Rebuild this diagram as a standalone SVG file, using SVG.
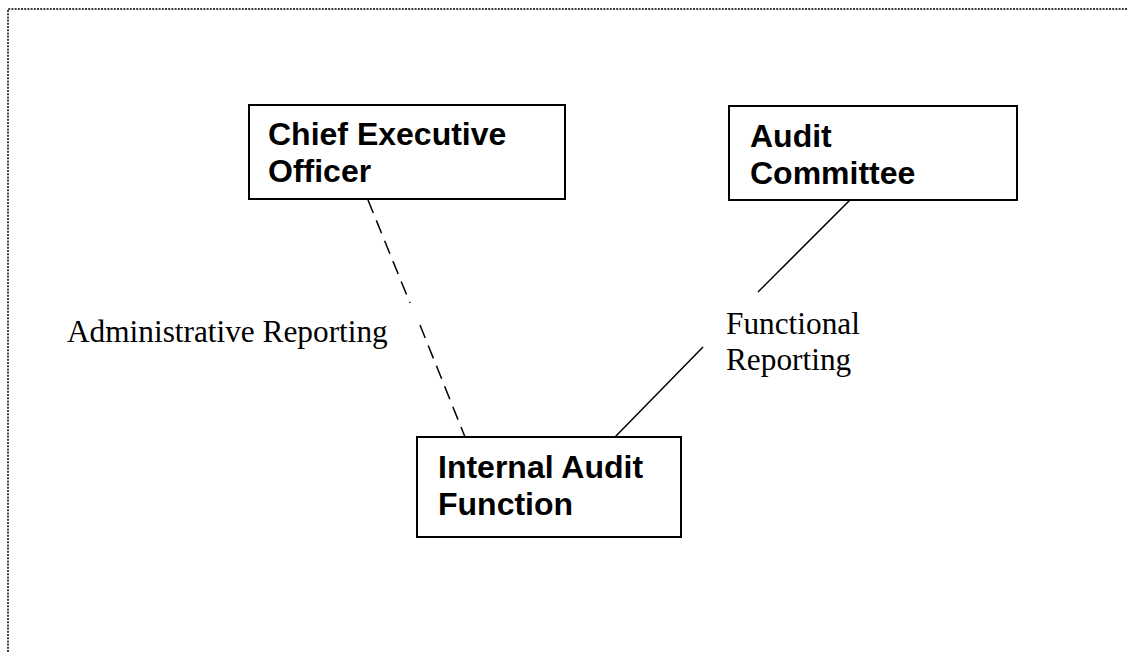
<svg xmlns="http://www.w3.org/2000/svg" width="1128" height="652" viewBox="0 0 1128 652">
<style>
.frame{fill:none;stroke:#000;stroke-width:1.5;stroke-dasharray:2 1.2}
.box{fill:#fff;stroke:#000;stroke-width:2}
.bold{font-family:"Liberation Sans",Arial,sans-serif;font-weight:bold;font-size:32px;fill:#000}
.lbl{font-family:"Liberation Serif","Times New Roman",serif;font-size:31.3px;fill:#000}
.dash{stroke:#000;stroke-width:1.5;stroke-dasharray:14 8;fill:none}
.solid{stroke:#000;stroke-width:1.5;fill:none}
</style>
<rect width="1128" height="652" fill="#fff"/>
<g id="frame">
<polyline class="frame" points="8,652 8,9 1128,9"/>
</g>
<g id="connectors">
<line class="dash" x1="368" y1="200" x2="410" y2="303"/>
<line class="dash" x1="420" y1="325" x2="465" y2="437"/>
<line class="solid" x1="850" y1="200" x2="758" y2="292"/>
<line class="solid" x1="703" y1="347" x2="615" y2="437"/>
</g>
<g id="ceo">
<rect class="box" x="249" y="105" width="316" height="94"/>
<text class="bold" x="268" y="145">Chief Executive</text>
<text class="bold" x="268" y="182">Officer</text>
</g>
<g id="audit-committee">
<rect class="box" x="729" y="106" width="288" height="94"/>
<text class="bold" x="750" y="147">Audit</text>
<text class="bold" x="750" y="184">Committee</text>
</g>
<g id="internal-audit">
<rect class="box" x="417" y="437" width="264" height="100"/>
<text class="bold" x="438" y="478">Internal Audit</text>
<text class="bold" x="438" y="515">Function</text>
</g>
<g id="labels">
<text class="lbl" x="67" y="342">Administrative Reporting</text>
<text class="lbl" x="726" y="334">Functional</text>
<text class="lbl" x="726" y="370">Reporting</text>
</g>
</svg>
